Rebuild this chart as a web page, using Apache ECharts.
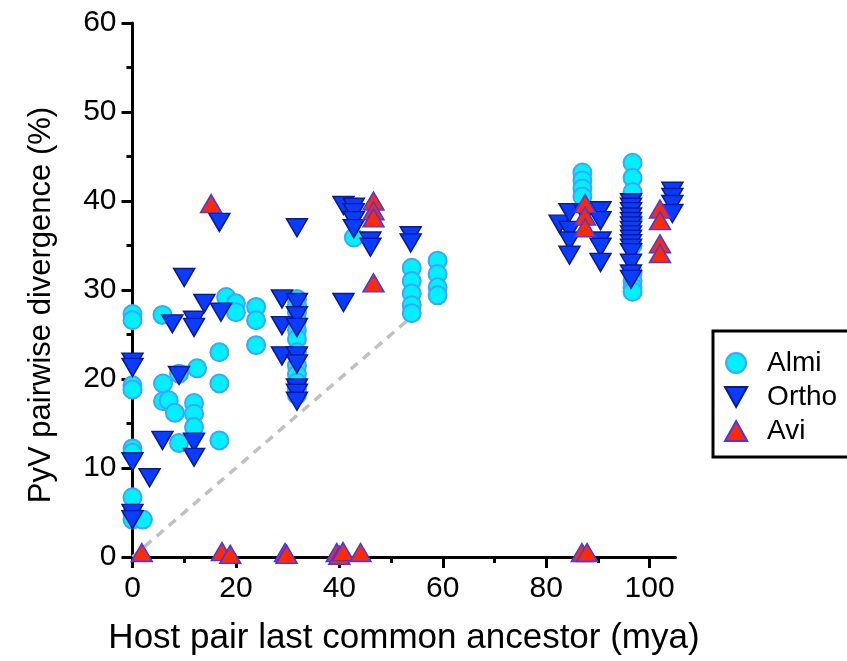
<!DOCTYPE html>
<html>
<head>
<meta charset="utf-8">
<script src="https://cdn.jsdelivr.net/npm/echarts@6/dist/echarts.min.js"></script>
<style>html,body{margin:0;padding:0;background:#fff;}#c{width:847px;height:661px;}</style>
</head>
<body>
<div id="c"></div>
<script>
// ---- data (x: mya, y: % divergence) ----
var almiPoints = [
  [0,27.3],[0,26.6],[0,19.3],[0,18.8],[0,12.2],[0,11.7],[0,6.7],[0,4.9],[0,4.2],
  [2,4.2],
  [5.8,27.2],[5.9,19.5],[5.9,17.5],[7,17.6],[8.2,16.2],[9,12.8],[9,20.6],
  [11.9,17.3],[11.9,16.1],[11.9,14.6],[12.5,21.2],
  [16.8,19.5],[16.8,13.1],[16.8,23.0],[18.1,29.2],[20,28.5],[20,27.5],
  [23.9,28.1],[23.9,26.6],[23.9,23.8],
  [31.8,29],[31.8,28.3],[31.8,27.5],[31.8,26.6],[31.8,25.5],[31.8,24.5],[31.8,23],[31.8,21.5],[31.8,20.5],[31.8,19.6],[31.8,18.8],[31.8,18.2],
  [42.8,35.9],
  [54,32.5],[54,31],[54,29.6],[54,28.3],[54,27.4],
  [59,33.3],[59,31.8],[59,30.3],[59,29.4],
  [87,43.2],[87,42.3],[87,41.4],[87,40.5],
  [96.7,44.3],[96.7,42.6],[96.7,41],[96.7,38],[96.7,35],[96.7,32],[96.7,31],[96.7,30.3],[96.7,29.8]
];
var orthoPoints = [
  [0,21.9],[0,21.3],[0,10.7],[0,4.9],[0,4.2],
  [3.3,8.9],[5.8,13.1],[7.7,26.2],[9,20.4],[10,31.4],
  [11.9,26.6],[11.9,25.8],[11.9,12.9],[11.9,11.2],[13.9,28.5],[16.8,37.6],[17.1,27.5],
  [28.9,29],[28.9,26],[28.9,22.6],
  [31.8,37],[31.8,28.6],[31.8,27.1],[31.8,25.8],[31.8,22.6],[31.8,21.7],[31.8,19],[31.8,18.4],[31.8,17.5],
  [40.8,39.5],[40.8,28.6],
  [42.8,39.3],[42.8,38.7],[42.8,37.8],[42.8,36.9],
  [46,35.5],[46,34.8],[53.8,36.1],[53.8,35.3],
  [82.6,37.4],[84.5,38.7],[84.5,36.7],[84.5,35.5],[84.5,33.9],[87.5,38.5],
  [90.5,38.9],[90.5,37.8],[90.5,35.5],[90.5,34.8],[90.5,33.1],
  [96.4,39.8],[96.4,39.3],[96.4,38.8],[96.4,38.2],[96.4,37.7],[96.4,37.2],[96.4,36.7],[96.4,36.2],[96.4,35.7],[96.4,35.2],[96.4,34.7],[96.4,34.2],[96.4,33],[96.4,31.8],[96.4,31.2],
  [104.4,41.1],[104.4,40.4],[104.4,39.6],[104.4,38.6]
];
var aviPoints = [
  [15.2,39.7],
  [46.6,40],[46.6,38.9],[46.6,38.1],[46.6,30.8],
  [87.5,39.7],[87.5,38.3],[87.5,37],
  [102,39.1],[102,37.8],[102,35.2],[102,34.1],
  [1.8,0.5],[17.3,0.6],[18.9,0.3],[29.5,0.5],[29.8,0.3],[39.5,0.5],[40,0.2],[40.7,0.6],[44.1,0.5],[86.9,0.5],[87.9,0.5]
];
var refLine = [[0,0],[54,27]];
var seriesNames = ['Almi','Ortho','Avi'];
var xTickValues = [0,20,40,60,80,100];
var xMinorValues = [10,30,50,70,90];

var FONT = '"Liberation Sans", Arial, Helvetica, sans-serif';
var chart = echarts.init(document.getElementById('c'), null, {renderer:'canvas'});
var downTri = 'path://M0,0L20,0L10,18Z';
var upTri = 'path://M10,0L20,18L0,18Z';

chart.setOption({
  animation: false,
  backgroundColor: '#ffffff',
  grid: {left: 132.5, top: 23, width: 543, height: 534, containLabel: false},
  legend: {
    orient: 'vertical', left: 713, top: 331,
    data: seriesNames,
    itemWidth: 40, itemHeight: 20, itemGap: 6,
    padding: [18, 80, 12, 11],
    borderColor: '#000', borderWidth: 3,
    textStyle: {fontFamily: FONT, fontSize: 28, color: '#000', padding: [0,0,0,6], lineHeight: 26}
  },
  xAxis: [{
    type: 'value', min: 0, max: 105,
    name: 'Host pair last common ancestor (mya)', nameLocation: 'middle', nameGap: 64,
    nameTextStyle: {fontFamily: FONT, fontSize: 35, color: '#000'},
    axisLine: {show: true, onZero: false, lineStyle: {color: '#000', width: 3}},
    axisTick: {show: true, length: 11, lineStyle: {color: '#000', width: 3}, customValues: xTickValues},
    axisLabel: {fontFamily: FONT, fontSize: 30, color: '#000', margin: 17, customValues: xTickValues},
    splitLine: {show: false}
  },{
    type: 'value', min: 0, max: 105, position: 'bottom',
    axisLine: {show: false},
    axisTick: {show: true, length: 6, lineStyle: {color: '#000', width: 3}, customValues: xMinorValues},
    axisLabel: {show: false},
    splitLine: {show: false}
  }],
  yAxis: {
    type: 'value', min: 0, max: 60, interval: 10,
    name: 'PyV pairwise divergence (%)', nameLocation: 'middle', nameGap: 76, nameRotate: 90,
    nameTextStyle: {fontFamily: FONT, fontSize: 31, color: '#000', padding: [0, 30, 0, 0]},
    axisLine: {show: true, onZero: false, lineStyle: {color: '#000', width: 3}},
    axisTick: {show: true, length: 11, lineStyle: {color: '#000', width: 3}},
    minorTick: {show: true, splitNumber: 2, length: 6, lineStyle: {color: '#000', width: 3}},
    axisLabel: {fontFamily: FONT, fontSize: 30, color: '#000', margin: 16},
    splitLine: {show: false}
  },
  series: [
    {
      type: 'line', data: refLine, symbol: 'none', silent: true, z: 1,
      lineStyle: {color: '#c0c0c0', width: 3.5, type: [9, 7]}
    },
    {
      name: 'Almi', type: 'scatter', data: almiPoints, symbol: 'circle', symbolSize: 18, z: 2,
      itemStyle: {color: '#00f0ff', borderColor: '#3aa6ff', borderWidth: 2, opacity: 1}
    },
    {
      name: 'Ortho', type: 'scatter', data: orthoPoints, symbol: downTri, symbolSize: [21, 18], z: 3,
      itemStyle: {color: '#0a3cff', borderColor: '#0a1a8c', borderWidth: 1.5, opacity: 1}
    },
    {
      name: 'Avi', type: 'scatter', data: aviPoints, symbol: upTri, symbolSize: [21, 18], z: 4,
      itemStyle: {color: '#ff2a00', borderColor: '#3a3aff', borderWidth: 1.5, opacity: 1}
    }
  ]
});
</script>
</body>
</html>
